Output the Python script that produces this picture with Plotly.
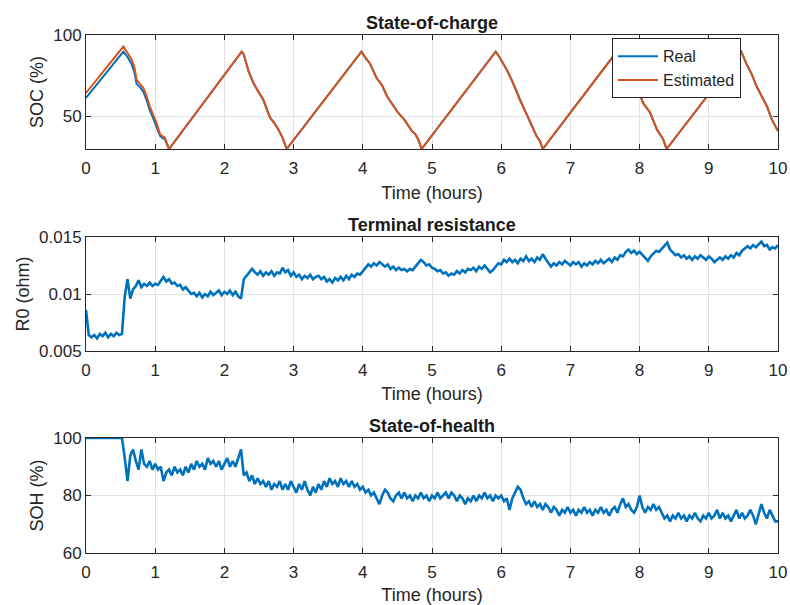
import numpy as np
import plotly.graph_objects as go

# ---------------- data ----------------
# SOC (%) vs time (hours)
soc_t = [0, 0.54, 0.60, 0.66, 0.70, 0.73, 0.78, 0.83, 0.88, 0.92, 0.97, 1.02, 1.07, 1.10, 1.14, 1.19, 1.20,
         2.25, 2.28, 2.35, 2.42, 2.48, 2.56, 2.66, 2.72, 2.78, 2.84, 2.90,
         3.98, 4.04, 4.10, 4.20, 4.28, 4.35, 4.44, 4.51, 4.60, 4.71, 4.76, 4.80, 4.85,
         5.92, 5.98, 6.08, 6.15, 6.21, 6.27, 6.35, 6.42, 6.51, 6.56, 6.60,
         7.67, 7.72, 7.80, 7.90, 7.98, 8.05, 8.15, 8.25, 8.34, 8.39,
         9.47, 9.55, 9.62, 9.69, 9.76, 9.84, 9.91, 10.0]
soc_estimated = [64.4, 92.9, 89, 84.8, 80, 72.6, 70, 67.5, 62, 56.3, 51, 46, 39, 38, 37, 31, 30,
                 89.8, 88, 77.6, 70.5, 66, 60.4, 49.2, 46, 42, 37, 30,
                 89.8, 86, 82.7, 73.6, 69, 62.4, 57, 52.3, 48, 41, 39, 36, 30,
                 89.8, 86, 78.7, 72.6, 66, 60.4, 53, 46, 38, 35, 30,
                 89.8, 86, 80, 72, 66.5, 58.3, 52.4, 42, 36, 30,
                 89.8, 81.7, 76, 68.5, 63, 56.3, 48.2, 41]
soc_real = [61.4, 89.8, 86.5, 82, 77, 70, 68, 65, 59.5, 54, 49, 44, 38, 37, 36, 31, 30,
            89.8, 88, 77.6, 70.5, 66, 60.4, 49.2, 46, 42, 37, 30,
            89.8, 86, 82.7, 73.6, 69, 62.4, 57, 52.3, 48, 41, 39, 36, 30,
            89.8, 86, 78.7, 72.6, 66, 60.4, 53, 46, 38, 35, 30,
            89.8, 86, 80, 72, 66.5, 58.3, 52.4, 42, 36, 30,
            89.8, 81.7, 76, 68.5, 63, 56.3, 48.2, 41]

# time grid for the noisy estimates (every 0.04 h)
est_t = np.linspace(0, 10, 251)

# terminal resistance R0, in units of 1e-4 ohm (one row per hour)
r0_e4 = [
    86, 64, 62, 64, 61, 65, 63, 66, 62, 65, 63, 66, 64, 65, 98, 113, 96, 104, 107, 112, 106, 109, 107, 110, 107,
    109, 108, 112, 115, 111, 113, 109, 110, 107, 108, 104, 106, 103, 100, 101, 98, 101, 97, 100, 98, 102, 99, 101, 103, 99,
    102, 100, 103, 99, 102, 98, 96, 113, 116, 118, 122, 119, 117, 120, 116, 119, 117, 120, 116, 119, 118, 123, 119, 121, 116,
    119, 115, 117, 113, 116, 114, 117, 113, 115, 116, 113, 115, 111, 113, 110, 114, 112, 115, 112, 116, 113, 117, 115, 118, 117,
    120, 122, 126, 124, 127, 125, 128, 126, 124, 126, 122, 124, 121, 123, 121, 122, 120, 122, 121, 124, 127, 130, 128, 125, 126,
    123, 122, 120, 121, 118, 119, 116, 118, 117, 120, 118, 121, 119, 122, 121, 123, 120, 124, 122, 125, 122, 119, 121, 124, 127,
    126, 130, 128, 131, 128, 130, 127, 131, 129, 133, 129, 131, 128, 132, 130, 135, 131, 128, 124, 127, 125, 128, 126, 129, 127,
    125, 128, 126, 128, 124, 127, 125, 128, 126, 129, 127, 130, 127, 129, 131, 128, 132, 130, 134, 133, 137, 139, 136, 138, 135,
    137, 134, 131, 129, 133, 136, 138, 137, 140, 142, 145, 139, 136, 134, 135, 132, 134, 131, 133, 130, 133, 131, 134, 132, 130,
    133, 131, 128, 130, 132, 130, 133, 131, 134, 132, 136, 134, 138, 140, 142, 140, 143, 141, 144, 146, 142, 143, 139, 141, 140,
    143]

# state of health (%) (one row per hour)
soh = [
    100, 100, 100, 100, 100, 100, 100, 100, 100, 100, 100, 100, 100, 100, 93, 85, 94, 96, 92, 89, 96, 91, 90, 92, 89,
    91, 89, 90, 85, 88, 89, 87, 90, 88, 89, 87, 90, 88, 91, 89, 92, 90, 91, 89, 93, 91, 92, 90, 92, 89,
    91, 93, 90, 92, 90, 93, 96, 87, 88, 85, 87, 84, 86, 84, 85, 83, 85, 82, 84, 83, 85, 82, 84, 82, 85,
    83, 81, 84, 82, 85, 82, 80, 83, 81, 84, 82, 85, 83, 86, 84, 85, 83, 86, 84, 85, 83, 85, 83, 84, 82,
    83, 81, 82, 80, 81, 79, 77, 80, 82, 81, 79, 78, 80, 81, 79, 81, 79, 80, 78, 80, 79, 81, 79, 80, 78,
    80, 79, 81, 79, 80, 81, 79, 81, 80, 78, 80, 79, 77, 79, 78, 80, 78, 80, 79, 81, 79, 80, 78, 80, 79,
    80, 78, 79, 75, 79, 81, 83, 82, 79, 77, 78, 76, 78, 76, 77, 75, 77, 76, 74, 76, 75, 73, 75, 74, 76,
    74, 75, 73, 75, 74, 76, 74, 75, 73, 75, 74, 76, 74, 75, 73, 75, 76, 74, 77, 79, 76, 77, 75, 74, 76,
    80, 76, 74, 76, 75, 77, 75, 76, 74, 72, 73, 71, 73, 72, 74, 72, 73, 71, 73, 72, 74, 72, 71, 73, 72,
    74, 72, 73, 75, 72, 74, 72, 73, 71, 73, 75, 72, 74, 72, 73, 75, 73, 70, 74, 77, 74, 72, 75, 73, 71,
    71]

x_ticks = list(range(0, 11))
soc_ticks = [50, 100]
r0_ticks = [0.005, 0.01, 0.015]
r0_ticklabels = ["0.005", "0.01", "0.015"]
soh_ticks = [60, 80, 100]

# ---------------- figure ----------------
BLUE = "#0072BD"
ORANGE = "#D95319"
AX = "#262626"
GRID = "#e3e3e3"
FONT = "Liberation Sans, Arial, Helvetica, sans-serif"

fig = go.Figure()
fig.add_trace(go.Scatter(x=soc_t, y=soc_real, mode="lines", name="Real",
                         line=dict(color=BLUE, width=2), xaxis="x", yaxis="y"))
fig.add_trace(go.Scatter(x=soc_t, y=soc_estimated, mode="lines", name="Estimated",
                         line=dict(color=ORANGE, width=2), xaxis="x", yaxis="y"))
fig.add_trace(go.Scatter(x=est_t, y=[v * 1e-4 for v in r0_e4], mode="lines", showlegend=False,
                         line=dict(color=BLUE, width=2.6), xaxis="x2", yaxis="y2"))
fig.add_trace(go.Scatter(x=est_t, y=soh, mode="lines", showlegend=False,
                         line=dict(color=BLUE, width=2.6), xaxis="x3", yaxis="y3"))

domains = {"": [0.7799, 1.0], "2": [0.3900, 0.6100], "3": [0.0, 0.2220]}


def xax(anchor):
    return dict(domain=[0, 1], range=[0, 10], tickvals=x_ticks, anchor=anchor, automargin=False,
                showline=True, linecolor=AX, linewidth=1, mirror="ticks",
                ticks="inside", ticklen=5, tickcolor=AX, tickwidth=1, ticklabelstandoff=4,
                showgrid=True, gridcolor=GRID, gridwidth=1, zeroline=False,
                tickfont=dict(size=17, color=AX, family=FONT),
                title=dict(text="Time (hours)", font=dict(size=18, color=AX, family=FONT), standoff=8))


def yax(anchor, dom, rng, tv, tt, title):
    d = dict(domain=dom, range=rng, tickvals=tv, anchor=anchor, automargin=False,
             showline=True, linecolor=AX, linewidth=1, mirror="ticks",
             ticks="inside", ticklen=5, tickcolor=AX, tickwidth=1,
             showgrid=True, gridcolor=GRID, gridwidth=1, zeroline=False,
             tickfont=dict(size=17, color=AX, family=FONT),
             title=dict(text=title, font=dict(size=18, color=AX, family=FONT), standoff=4))
    if tt is not None:
        d["ticktext"] = tt
    return d


fig.update_layout(
    width=790, height=605,
    margin=dict(l=86, r=12, t=35, b=52),
    paper_bgcolor="white", plot_bgcolor="white",
    font=dict(family=FONT, color=AX),
    xaxis=xax("y"), xaxis2=xax("y2"), xaxis3=xax("y3"),
    yaxis=yax("x", domains[""], [30, 100], soc_ticks, None, "SOC (%)"),
    yaxis2=yax("x2", domains["2"], [0.005, 0.015], r0_ticks, r0_ticklabels, "R0 (ohm)"),
    yaxis3=yax("x3", domains["3"], [60, 100], soh_ticks, None, "SOH (%)"),
    legend=dict(x=0.9465, y=0.9936, xanchor="right", yanchor="top",
                bgcolor="white", bordercolor=AX, borderwidth=1,
                font=dict(size=16, color=AX, family=FONT), itemwidth=40,
                tracegroupgap=0),
    showlegend=True,
)

titles = [("State-of-charge", 1.0), ("Terminal resistance", 0.6100), ("State-of-health", 0.2220)]
for text, ytop in titles:
    fig.add_annotation(text="<b>%s</b>" % text, x=0.5, y=ytop, xref="paper", yref="paper",
                       xanchor="center", yanchor="bottom", yshift=0, showarrow=False,
                       font=dict(size=18, color="#1a1a1a", family=FONT))

# remove the default page margin so the 790x605 figure fills the window exactly
fig.write_html("out.html", config={"displayModeBar": False},
               post_script="document.body.style.margin='0';document.body.style.overflow='hidden';")
